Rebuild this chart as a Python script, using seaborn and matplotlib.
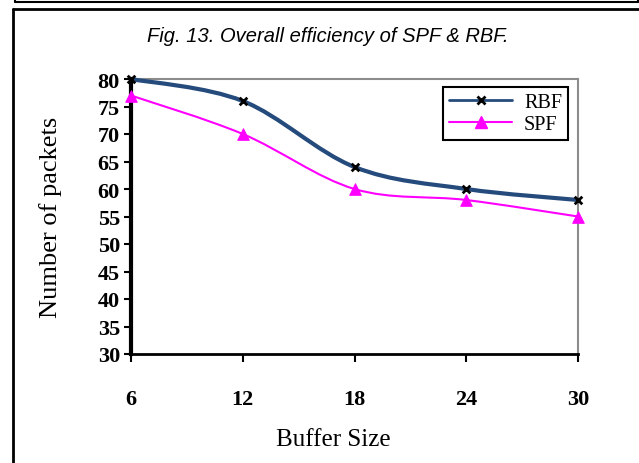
import matplotlib
matplotlib.use("Agg")
import matplotlib.pyplot as plt
import numpy as np
import pandas as pd
import seaborn as sns
from matplotlib.lines import Line2D
from matplotlib.path import Path
from matplotlib.patches import PathPatch

# Data
buffer_size = [6, 12, 18, 24, 30]
rbf_packets = [80, 76, 64, 60, 58]
spf_packets = [77, 70, 60, 58, 55]
y_ticks = [30, 35, 40, 45, 50, 55, 60, 65, 70, 75, 80]

RBF_COLOR = "#254B7C"
SPF_COLOR = "#FF00FF"


def smooth_path(xs, ys):
    """Excel-like smoothed line: cubic Bezier segments through the points."""
    pts = np.column_stack([xs, ys]).astype(float)
    n = len(pts)
    verts = [pts[0]]
    codes = [Path.MOVETO]
    for i in range(n - 1):
        p0 = pts[max(i - 1, 0)]
        p1 = pts[i]
        p2 = pts[i + 1]
        p3 = pts[min(i + 2, n - 1)]
        verts += [p1 + (p2 - p0) / 6, p2 - (p3 - p1) / 6, p2]
        codes += [Path.CURVE4] * 3
    return Path(verts, codes)


df = pd.DataFrame({"buffer": buffer_size, "RBF": rbf_packets, "SPF": spf_packets})

sns.set_style("white")
plt.rcParams["font.family"] = ["Liberation Serif", "DejaVu Serif"]
for key in ["text.color", "axes.labelcolor", "xtick.color", "ytick.color"]:
    plt.rcParams[key] = "black"

W, H = 639, 464
fig = plt.figure(figsize=(W / 100, H / 100), dpi=100)
ax = fig.add_axes([131 / W, 1 - 355 / H, (578 - 131) / W, (355 - 80) / H])

# smoothed lines
ax.add_patch(PathPatch(smooth_path(df["buffer"], df["SPF"]), facecolor="none",
                       edgecolor=SPF_COLOR, lw=1.5, zorder=3, clip_on=False))
ax.add_patch(PathPatch(smooth_path(df["buffer"], df["RBF"]), facecolor="none",
                       edgecolor=RBF_COLOR, lw=3, zorder=3, clip_on=False))

# markers
sns.scatterplot(data=df, x="buffer", y="SPF", marker="^", s=70, color=SPF_COLOR,
                edgecolor=SPF_COLOR, ax=ax, zorder=4, clip_on=False, legend=False)
sns.scatterplot(data=df, x="buffer", y="RBF", marker="x", s=30, color="black",
                linewidth=2, ax=ax, zorder=5, clip_on=False, legend=False)

ax.set_xlim(6, 30)
ax.set_ylim(30, 80)
ax.set_xticks(buffer_size)
ax.set_yticks(y_ticks)
ax.set_xticklabels([str(v) for v in buffer_size], fontweight="bold", fontsize=16)
ax.set_yticklabels([str(v) for v in y_ticks], fontweight="bold", fontsize=16)
ax.tick_params(axis="y", direction="out", length=5, width=1.5, color="black", pad=3, left=True)
ax.tick_params(axis="x", direction="out", length=6, width=1.5, color="black", pad=19, bottom=True)

for side in ["top", "right"]:
    ax.spines[side].set_color("#8c8c8c")
    ax.spines[side].set_linewidth(1.5)
ax.spines["left"].set_color("black")
ax.spines["left"].set_linewidth(3)
ax.spines["bottom"].set_color("black")
ax.spines["bottom"].set_linewidth(2)

ax.set_ylabel("Number of packets", fontsize=19)
ax.yaxis.set_label_coords(-0.155, 0.5)
ax.set_xlabel("Buffer Size", fontsize=18)
ax.xaxis.set_label_coords(0.452, -0.27)

handles = [
    Line2D([], [], color=RBF_COLOR, lw=2, marker="x", markersize=6,
           markeredgecolor="black", markeredgewidth=2),
    Line2D([], [], color=SPF_COLOR, lw=1.5, marker="^", markersize=8,
           markeredgecolor=SPF_COLOR, markerfacecolor=SPF_COLOR),
]
leg = ax.legend(handles, ["RBF", "SPF"], loc="upper right",
                bbox_to_anchor=((568 - 131) / 447, (355 - 88) / 275),
                borderaxespad=0, fontsize=14.5, frameon=True, fancybox=False,
                framealpha=1, edgecolor="black", handlelength=3.1,
                handletextpad=0.6, labelspacing=0.15, borderpad=0.3)
leg.get_frame().set_linewidth(1.5)

fig.text(328 / W, 1 - 37 / H, "Fig. 13. Overall efficiency of SPF & RBF.",
         ha="center", va="center", fontsize=14.5, style="italic",
         family=["Liberation Sans", "DejaVu Sans"])

# page frame lines
def frame_line(xs, ys, lw=2):
    fig.add_artist(Line2D([x / W for x in xs], [1 - y / H for y in ys],
                          transform=fig.transFigure, color="black", lw=lw))

frame_line([12.5, 12.5], [9.5, 464])
frame_line([12.5, 639], [9.5, 9.5])
frame_line([15, 638], [2.5, 2.5], lw=1.5)
frame_line([15, 15], [0, 2.5], lw=1.5)
frame_line([638, 638], [0, 2.5], lw=1.5)

fig.savefig("out.png", dpi=100)
